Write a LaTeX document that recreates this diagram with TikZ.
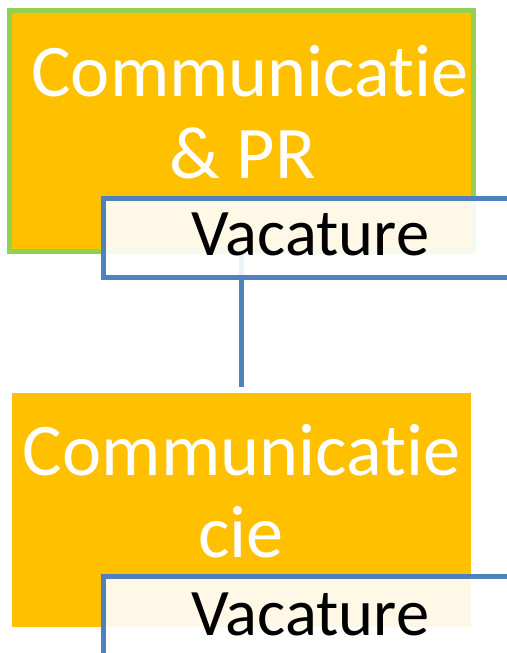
\documentclass[tikz,border=0pt]{standalone}
\usepackage{fontspec}
\usepackage{xcolor}
\newfontfamily\carlito[RawFeature={-liga}]{Carlito}
\definecolor{boxorange}{HTML}{FFC000}
\definecolor{boxgreen}{HTML}{92D050}
\definecolor{linkblue}{HTML}{4F81BD}

\begin{document}
\begin{tikzpicture}[x=1pt,y=-1pt,
  unit/.style={rectangle,fill=boxorange,inner sep=0pt,outer sep=0pt},
  vacbox/.style={rectangle,draw=linkblue,line width=5pt,fill=white,fill opacity=0.9,
    inner sep=0pt,outer sep=0pt,minimum width=415pt,minimum height=79.5pt},
  unittext/.style={text=white,font=\carlito\fontsize{74.3}{82}\selectfont,anchor=base},
  vactext/.style={text=black,font=\carlito\fontsize{66.5}{70}\selectfont,anchor=base}]
\useasboundingbox (0,0) rectangle (506,653);

% the two units
\node[unit,draw=boxgreen,line width=5pt,minimum width=464pt,minimum height=240.5pt] (commpr) at (241.5,130.75) {};
\node[unit,minimum width=459pt,minimum height=234pt] (commcie) at (241.5,510) {};

\node[unittext] (commprtop) at (250,96) {Communicatie};
\node[unittext] (commprbot) at (242.5,178) {\& PR};

\node[unittext] (commcietop) at (241.5,475) {Communicatie};
\node[unittext] (commciebot) at (241,557) {cie};

% link between them
\draw[linkblue,line width=5.5pt,shorten >=6pt] (commpr.south) -- (commcie.north);

% vacancy boxes
\node[vacbox] (vacpr) at (310.5,237.75) {};
\node[vactext] (vacprtext) at (310.5,255) {Vacature};

\node[vacbox] (vaccie) at (310.5,616.25) {};
\node[vactext] (vaccietext) at (310.5,635) {Vacature};

\end{tikzpicture}
\end{document}
